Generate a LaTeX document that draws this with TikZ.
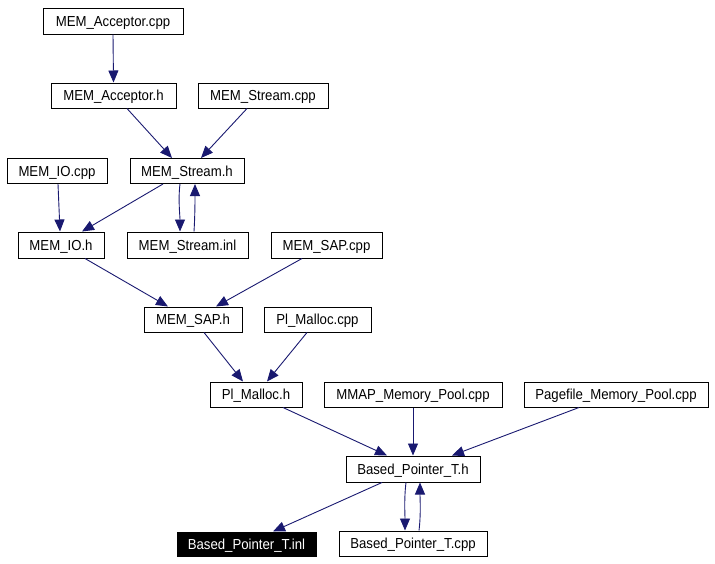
\documentclass[tikz,border=0pt]{standalone}
\usepackage{fontspec}
\setmainfont{Liberation Sans}
\newfontfamily\nodefont[FakeStretch=0.91]{Liberation Sans}
\usetikzlibrary{arrows.meta}
\definecolor{edgeblue}{HTML}{191970}
\begin{document}
\begin{tikzpicture}[x=1pt,y=-1pt,
  box/.style={draw=black, line width=1pt, fill=white, minimum height=25pt, inner sep=0pt,
    font=\nodefont\fontsize{14.5}{16}\selectfont, text height=10.5pt, text depth=0pt, anchor=center},
  hilite/.style={box, fill=black, text=white},
  edge/.style={draw=edgeblue, line width=0.9pt, -{Triangle[length=12pt,width=10pt]}}]
\useasboundingbox (0,0) rectangle (715,563);
% nodes
\node[box, minimum width=140pt, minimum height=26pt] (acpp) at (113,21) {MEM\_Acceptor.cpp};
\node[box, minimum width=125pt] (ah) at (113.5,95.5) {MEM\_Acceptor.h};
\node[box, minimum width=130pt] (scpp) at (263,95.5) {MEM\_Stream.cpp};
\node[box, minimum width=100pt] (iocpp) at (57,171) {MEM\_IO.cpp};
\node[box, minimum width=114pt] (sh) at (187,171) {MEM\_Stream.h};
\node[box, minimum width=86pt, minimum height=26pt] (ioh) at (61,245) {MEM\_IO.h};
\node[box, minimum width=121pt, minimum height=26pt] (sinl) at (187.5,245) {MEM\_Stream.inl};
\node[box, minimum width=111pt, minimum height=26pt] (sapcpp) at (326.5,245) {MEM\_SAP.cpp};
\node[box, minimum width=98pt] (saph) at (193,319.5) {MEM\_SAP.h};
\node[box, minimum width=107pt] (pmcpp) at (317.5,319.5) {Pl\_Malloc.cpp};
\node[box, minimum width=92pt] (pmh) at (256,394.5) {Pl\_Malloc.h};
\node[box, minimum width=178pt] (mmap) at (413,394.5) {MMAP\_Memory\_Pool.cpp};
\node[box, minimum width=184pt] (page) at (616,394.5) {Pagefile\_Memory\_Pool.cpp};
\node[box, minimum width=134pt, minimum height=26pt] (bph) at (413,469) {Based\_Pointer\_T.h};
\node[hilite, minimum width=139pt, minimum height=24pt] (bpinl) at (246.5,544) {Based\_Pointer\_T.inl};
\node[box, minimum width=148pt] (bpcpp) at (413,543.5) {Based\_Pointer\_T.cpp};
% edges
\draw[edge] (acpp.south) -- (ah.north);
\draw[edge] ([xshift=13.5pt]ah.south) -- ([xshift=-15pt]sh.north);
\draw[edge] ([xshift=-16pt]scpp.south) -- ([xshift=14pt]sh.north);
\draw[edge] ([xshift=1pt]iocpp.south) -- ([xshift=-1pt]ioh.north);
\draw[edge] ([xshift=-24pt]sh.south) -- ([xshift=21pt]ioh.north);
\draw[edge] ([xshift=-7pt]sh.south) .. controls +(-2,16) and +(0,-16) .. ([xshift=-7.5pt]sinl.north);
\draw[edge] ([xshift=6.5pt]sinl.north) .. controls +(1,-16) and +(0,16) .. ([xshift=8pt]sh.south);
\draw[edge] ([xshift=24pt]ioh.south) -- ([xshift=-25pt]saph.north);
\draw[edge] ([xshift=-24.5pt]sapcpp.south) -- ([xshift=23pt]saph.north);
\draw[edge] ([xshift=11pt]saph.south) -- ([xshift=-13pt]pmh.north);
\draw[edge] ([xshift=-10.5pt]pmcpp.south) -- ([xshift=11pt]pmh.north);
\draw[edge] ([xshift=27pt]pmh.south) -- ([xshift=-26pt]bph.north);
\draw[edge] (mmap.south) -- (bph.north);
\draw[edge] ([xshift=-37pt]page.south) -- ([xshift=39pt]bph.north);
\draw[edge] ([xshift=-31pt]bph.south) -- ([xshift=26.5pt]bpinl.north);
\draw[edge] ([xshift=-7pt]bph.south) .. controls +(-2,16) and +(0,-16) .. ([xshift=-8pt]bpcpp.north);
\draw[edge] ([xshift=6pt]bpcpp.north) .. controls +(2,-16) and +(0,16) .. ([xshift=7pt]bph.south);
\end{tikzpicture}
\end{document}
